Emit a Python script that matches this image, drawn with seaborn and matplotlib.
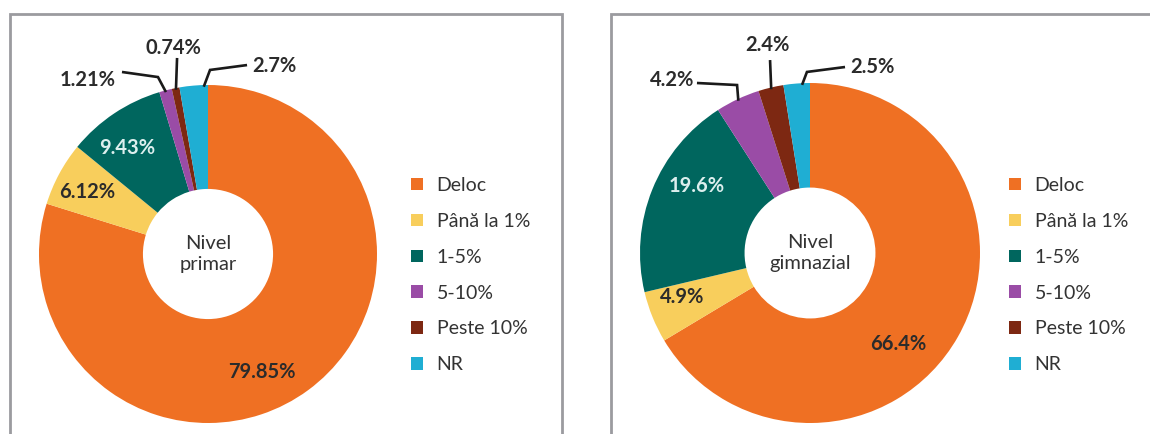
import numpy as np
import matplotlib
matplotlib.use("Agg")
import matplotlib.pyplot as plt
from matplotlib.patches import Rectangle
import seaborn as sns

# ---------------- data ----------------
categories = ["Deloc", "Până la 1%", "1-5%", "5-10%", "Peste 10%", "NR"]
primar_values = [79.85, 6.12, 9.43, 1.21, 0.74, 2.7]
gimnazial_values = [66.4, 4.9, 19.6, 4.2, 2.4, 2.5]
primar_labels = ["79.85%", "6.12%", "9.43%", "1.21%", "0.74%", "2.7%"]
gimnazial_labels = ["66.4%", "4.9%", "19.6%", "4.2%", "2.4%", "2.5%"]
centre_titles = ["Nivel\nprimar", "Nivel\ngimnazial"]

# ---------------- style ----------------
sns.set_theme(style="white")
plt.rcParams["font.family"] = ["Lato", "DejaVu Sans"]

palette = sns.color_palette(["#EF7023", "#F8CE5C", "#00665E", "#9A4CA6", "#7D2812", "#1FAED3"])
label_colors = ["#2b2b2b", "#2b2b2b", "#DDEFEE", "#2b2b2b", "#2b2b2b", "#2b2b2b"]

W, H = 1150, 434
fig = plt.figure(figsize=(W / 100, H / 100), dpi=100)
fig.patch.set_facecolor("white")

panels = [
    dict(values=primar_values, labels=primar_labels, title=centre_titles[0],
         centre=(208, 254), radius=169, legend_x=411,
         label_pos=[(0.32, -0.70), (-0.716, 0.367), (-0.479, 0.627),
                    (-0.71, 1.03), (-0.207, 1.219), (0.39, 1.112)],
         leaders={3: ([(-0.509, 1.077), (-0.296, 1.047)], 0.5),
                  4: ([(-0.183, 1.16)], 0.5),
                  5: ([(0.231, 1.118), (0.012, 1.089)], 0.85)}),
    dict(values=gimnazial_values, labels=gimnazial_labels, title=centre_titles[1],
         centre=(810, 253), radius=170, legend_x=1009,
         label_pos=[(0.518, -0.535), (-0.753, -0.259), (-0.665, 0.394),
                    (-0.81, 1.018), (-0.253, 1.224), (0.365, 1.094)],
         leaders={3: ([(-0.665, 1.0), (-0.429, 0.988)], 0.5),
                  4: ([(-0.235, 1.135)], 0.5),
                  5: ([(0.206, 1.094), (-0.018, 1.065)], 0.7)}),
]

# panel frames
frame_color = "#9B9B9F"
fig.patches.append(Rectangle((9.5 / W, -0.1), 552 / W, 1.1 - 14.5 / H, transform=fig.transFigure,
                             fill=False, edgecolor=frame_color, linewidth=2.0))
fig.patches.append(Rectangle((610.5 / W, -0.1), 600 / W, 1.1 - 14.5 / H, transform=fig.transFigure,
                             fill=False, edgecolor=frame_color, linewidth=2.0))

for p in panels:
    cx, cy = p["centre"]
    R = p["radius"]
    ax = fig.add_axes([(cx - R) / W, (H - cy - R) / H, 2 * R / W, 2 * R / H])
    wedges, _ = ax.pie(p["values"], colors=palette, startangle=90, counterclock=False,
                       radius=1.0, wedgeprops=dict(width=0.615, linewidth=0))
    ax.set_xlim(-1, 1)
    ax.set_ylim(-1, 1)
    ax.set_aspect("equal")
    ax.axis("off")

    for i, (txt, (lx, ly)) in enumerate(zip(p["labels"], p["label_pos"])):
        ax.text(lx, ly, txt, ha="center", va="center", fontsize=14.5, fontweight="bold",
                color=label_colors[i], clip_on=False)
        if i in p["leaders"]:
            pts, frac = p["leaders"][i]
            w = wedges[i]
            ang = np.deg2rad(w.theta2 - frac * (w.theta2 - w.theta1))
            end = (np.cos(ang) * 0.99, np.sin(ang) * 0.99)
            xs = [q[0] for q in pts] + [end[0]]
            ys = [q[1] for q in pts] + [end[1]]
            ax.plot(xs, ys, color="#1a1a1a", linewidth=1.9, solid_capstyle="butt",
                    solid_joinstyle="miter", clip_on=False)

    ax.text(0, 0.0, p["title"], ha="center", va="center", fontsize=14.5, color="#333333",
            linespacing=1.3)

    ax.legend(wedges, categories, loc="upper left",
              bbox_to_anchor=(p["legend_x"] / W, 1 - 177 / H), bbox_transform=fig.transFigure,
              frameon=False, borderpad=0, borderaxespad=0, fontsize=14,
              handlelength=0.62, handleheight=0.62, handletextpad=0.7, labelspacing=0.97,
              labelcolor="#333333")

fig.savefig("out.png", dpi=100, facecolor="white")
